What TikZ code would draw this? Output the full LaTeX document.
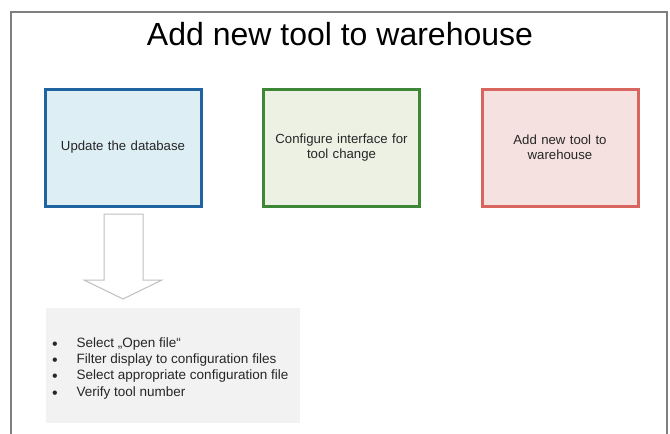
\documentclass[tikz,border=0pt]{standalone}
\usepackage{fontspec}
\setmainfont{Liberation Sans}
\definecolor{frameC}{HTML}{7F7F7F}
\definecolor{blueB}{HTML}{1F64A0}
\definecolor{blueF}{HTML}{DEEEF5}
\definecolor{greenB}{HTML}{3E8737}
\definecolor{greenF}{HTML}{EDF1E4}
\definecolor{redB}{HTML}{D8665E}
\definecolor{redF}{HTML}{F5E1DF}
\definecolor{grayF}{HTML}{F2F2F2}
\definecolor{arrowB}{HTML}{BFBFBF}
\definecolor{txt}{HTML}{262626}
\newcommand{\mybul}{\makebox[24.5pt][l]{\raisebox{-2.2pt}{\fontsize{16}{16}\selectfont •}}}
\tikzset{
  stepbox/.style={draw, line width=3pt, minimum width=156pt, minimum height=117pt,
    inner sep=0pt, align=center, text width=140pt, font=\fontsize{13.2}{15.5}\selectfont, text=txt},
  listline/.style={anchor=base west, inner sep=0pt, font=\fontsize{13.5}{16}\selectfont, text=txt}
}
\begin{document}
\begin{tikzpicture}[x=1pt,y=-1pt]
\useasboundingbox (0,0) rectangle (670,434);
\fill[white] (0,0) rectangle (670,434);
% frame
\draw[frameC, line width=1.5pt] (11,434) -- (11,12) -- (667,12) -- (667,434);
% title
\node[anchor=base, inner sep=0pt, font=\fontsize{32}{36}\selectfont] (title) at (340,45) {Add new tool to warehouse};
% boxes
\node[stepbox, draw=blueB, fill=blueF] (b1) at (123,147.5) {Update the database};
\node[stepbox, draw=greenB, fill=greenF] (b2) at (341.5,147.5) {Configure interface for\\tool change};
\node[stepbox, draw=redB, fill=redF] (b3) at (560,147.5) {Add new tool to\\warehouse};
% gray list box
\node[fill=grayF, minimum width=254pt, minimum height=115pt, inner sep=0pt] (list) at (173,365.5) {};
% arrow
\draw[arrowB, fill=white, line width=1pt, line join=miter]
  (104,214) -- (143,214) -- (143,280) -- (162,280) -- (123,299) -- (84,280) -- (104,280) -- cycle;
% list lines
\node[listline] (l1) at (52,347) {\mybul Select „Open file“};
\node[listline] (l2) at (52,363) {\mybul Filter display to configuration files};
\node[listline] (l3) at (52,379.5) {\mybul Select appropriate configuration file};
\node[listline] (l4) at (52,396) {\mybul Verify tool number};
\end{tikzpicture}
\end{document}
